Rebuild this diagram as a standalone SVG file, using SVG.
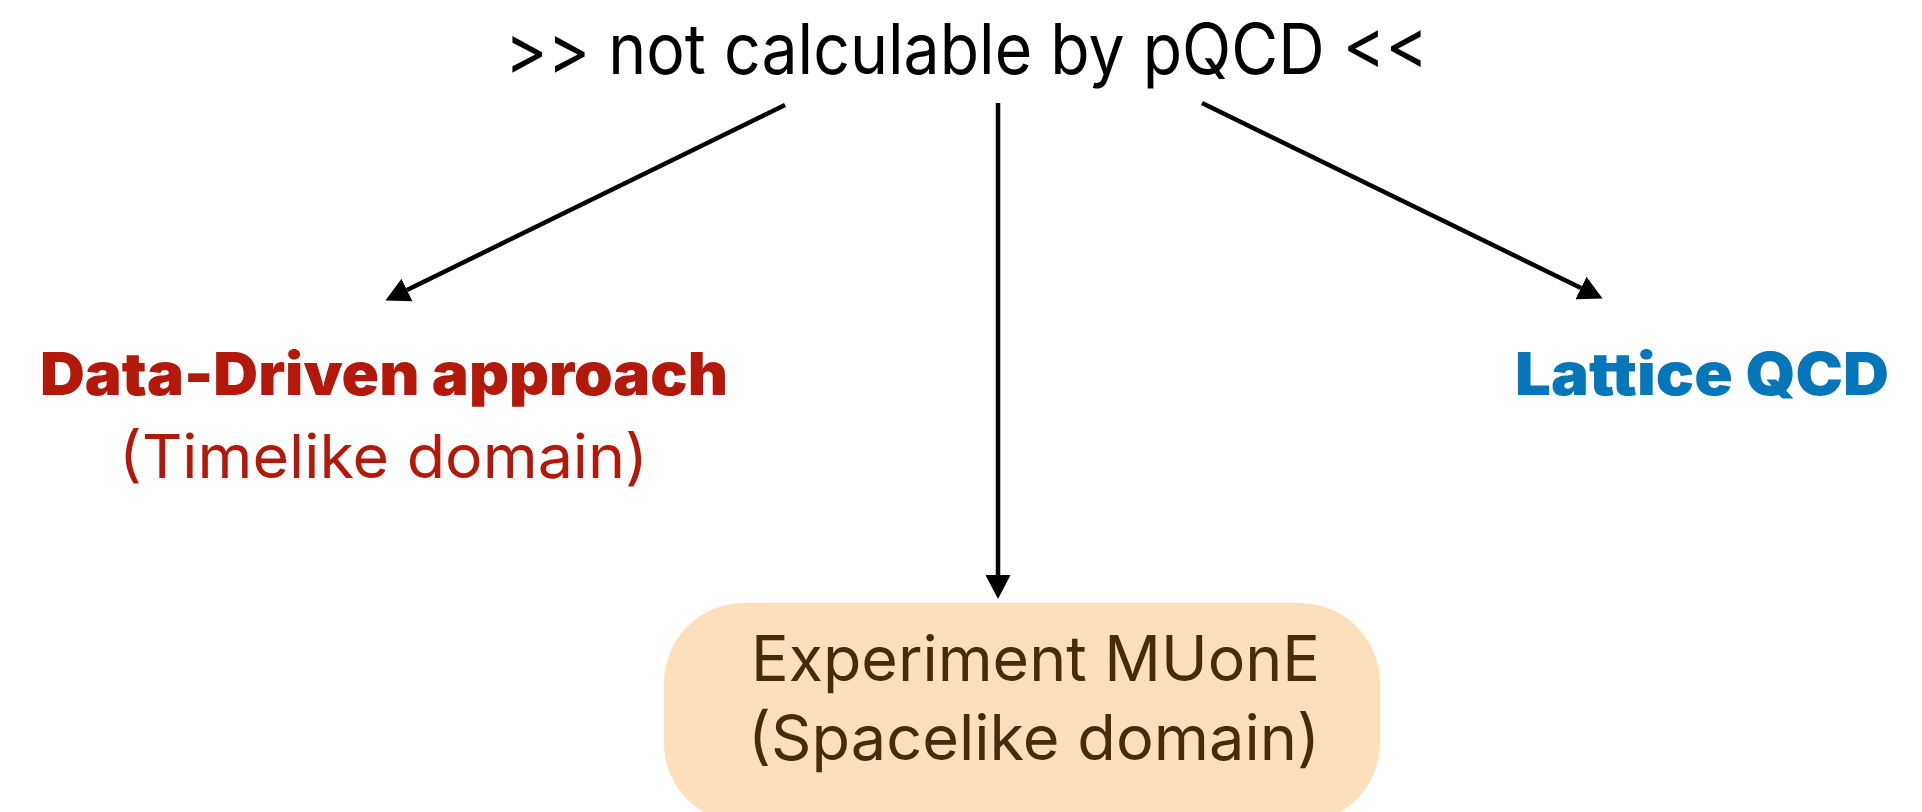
<svg xmlns="http://www.w3.org/2000/svg" width="1922" height="812" viewBox="0 0 1922 812">
  <style>
    .title { font-family: Inter, "Liberation Sans", sans-serif; font-size: 70px; fill: #000; }
    .red-b { font-family: Inter, "Liberation Sans", sans-serif; font-weight: 900; font-size: 59px; fill: #b3190a; }
    .red { font-family: Inter, "Liberation Sans", sans-serif; font-size: 61px; fill: #b3190a; }
    .blue-b { font-family: Inter, "Liberation Sans", sans-serif; font-weight: 900; font-size: 59px; fill: #0576ba; }
    .box { fill: #fde0bb; }
    .boxtxt { font-family: Inter, "Liberation Sans", sans-serif; font-size: 63px; fill: #4a2a08; }
    .conn { stroke: #000; stroke-width: 4.5; fill: none; }
  </style>
  <defs>
    <marker id="ah" viewBox="0 0 24 25" refX="0" refY="12.5" markerWidth="24" markerHeight="25" markerUnits="userSpaceOnUse" orient="auto">
      <path d="M0,0 L24,12.5 L0,25 z" fill="#000"/>
    </marker>
  </defs>
  <rect width="1922" height="812" fill="#fff"/>

  <g id="title">
    <text class="title" x="505" y="74" textLength="923" lengthAdjust="spacingAndGlyphs">&gt;&gt; not calculable by pQCD &lt;&lt;</text>
  </g>

  <g id="data-driven">
    <text class="red-b" x="40" y="395" textLength="688" lengthAdjust="spacingAndGlyphs">Data-Driven approach</text>
    <text class="red" x="119" y="478" textLength="529" lengthAdjust="spacingAndGlyphs">(Timelike domain)</text>
  </g>

  <g id="lattice">
    <text class="blue-b" x="1515" y="395" textLength="374" lengthAdjust="spacingAndGlyphs">Lattice QCD</text>
  </g>

  <g id="muone">
    <rect class="box" x="664" y="603" width="716" height="220" rx="80" ry="80"/>
    <text class="boxtxt" x="751" y="681" textLength="569" lengthAdjust="spacingAndGlyphs">Experiment MUonE</text>
    <text class="boxtxt" x="748" y="760" textLength="572" lengthAdjust="spacingAndGlyphs">(Spacelike domain)</text>
  </g>

  <g id="connectors">
    <line class="conn" x1="785" y1="105" x2="407" y2="290" marker-end="url(#ah)"/>
    <line class="conn" x1="998" y1="103" x2="998" y2="575" marker-end="url(#ah)"/>
    <line class="conn" x1="1202" y1="103" x2="1581" y2="288" marker-end="url(#ah)"/>
  </g>
</svg>
